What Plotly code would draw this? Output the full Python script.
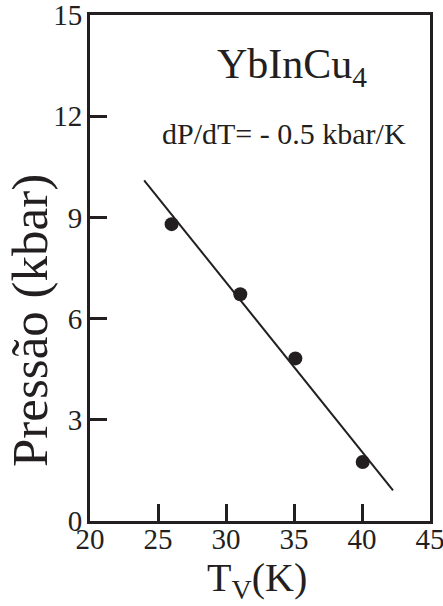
import plotly.graph_objects as go

# Data
temp_v = [26.0, 31.05, 35.1, 40.05]
pressure = [8.8, 6.72, 4.82, 1.75]
fit_x = [23.98, 42.28]
fit_y = [10.1, 0.91]
x_ticks = [20, 25, 30, 35, 40, 45]
y_ticks = [0, 3, 6, 9, 12, 15]

FONT = "Liberation Serif"
INK = "#231f20"

fig = go.Figure()
fig.add_trace(go.Scatter(x=fit_x, y=fit_y, mode="lines",
                         line=dict(color=INK, width=2), showlegend=False))
fig.add_trace(go.Scatter(x=temp_v, y=pressure, mode="markers",
                         marker=dict(color=INK, size=14), showlegend=False))

axis_common = dict(showgrid=False, zeroline=False, showline=True, linecolor=INK,
                   linewidth=3, mirror=True, ticks="inside", ticklen=17,
                   tickwidth=3, tickcolor=INK, automargin=False,
                   ticklabeloverflow="allow",
                   tickfont=dict(family=FONT, size=29, color=INK))

fig.update_xaxes(range=[20, 45], tickvals=x_ticks, ticklabelstandoff=-10, **axis_common)
fig.update_yaxes(range=[0, 15], tickvals=y_ticks, ticklabelstandoff=-1, **axis_common)

W, H = 443, 606
l, r, t, b = 90, 13, 15, 85
pw, ph = W - l - r, H - t - b


def px(x, y):
    return (x - l) / pw, 1 - (y - t) / ph


anns = [
    ("YbInCu<sub>4</sub>", 292, 67, 42, 0),
    ("dP/dT= - 0.5 kbar/K", 284, 133, 30, 0),
    ("Pressão (kbar)", 30, 321, 51, -90),
    ("T<sub>V</sub>(K)", 257, 580, 40, 0),
]
annotations = []
for text, x, y, size, ang in anns:
    ax, ay = px(x, y)
    annotations.append(dict(text=text, x=ax, y=ay, xref="paper", yref="paper",
                            xanchor="center", yanchor="middle", textangle=ang,
                            showarrow=False,
                            font=dict(family=FONT, size=size, color=INK)))

fig.update_layout(
    width=W, height=H,
    margin=dict(l=l, r=r, t=t, b=b),
    plot_bgcolor="white", paper_bgcolor="white",
    annotations=annotations,
)

fig.write_html("out.html")
